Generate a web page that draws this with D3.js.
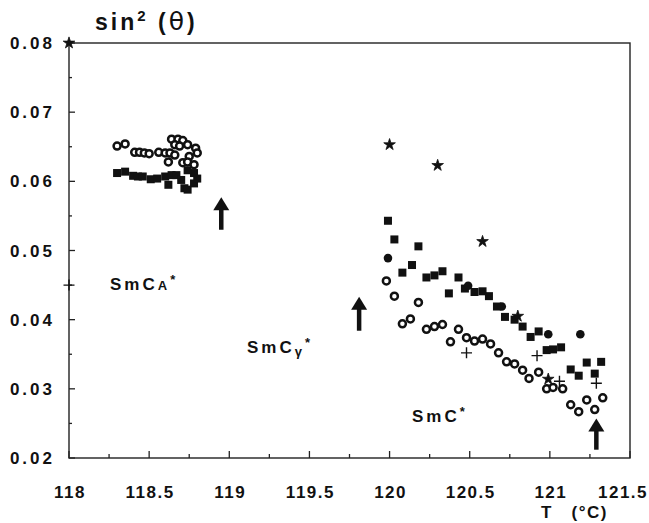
<!DOCTYPE html>
<html>
<head>
<meta charset="utf-8">
<script src="https://cdn.jsdelivr.net/npm/d3@7"></script>
<style>
  body { margin: 0; background: #fff; }
  svg { display: block; font-family: "Liberation Sans", Arial, sans-serif; }
  .x-label { font-weight: bold; font-size: 17px; letter-spacing: 1.5px; fill: #111; }
  .y-label { font-weight: bold; font-size: 17px; letter-spacing: 3px; fill: #111; }
  .phase { font-weight: bold; font-size: 17px; letter-spacing: 3px; fill: #111; }
</style>
</head>
<body>
<div id="chart"></div>
<script>
// sin^2(theta) vs T
var squaresT = [118.30,118.35,118.40,118.43,118.46,118.51,118.55,118.60,118.62,118.64,118.67,118.70,118.72,118.74,118.78,118.80,118.78,118.74,
  119.99,120.03,120.18,120.08,120.14,120.23,120.28,120.33,120.43,120.37,120.47,120.53,120.58,120.62,120.67,120.72,120.78,120.83,120.88,120.93,120.98,121.02,121.07,121.13,121.18,121.23,121.28,121.32];
var squaresV = [0.0612,0.0614,0.0608,0.0607,0.0607,0.0603,0.0604,0.0607,0.0595,0.0609,0.0609,0.0602,0.0590,0.0588,0.0597,0.0604,0.0612,0.0616,
  0.0543,0.0516,0.0506,0.0468,0.0479,0.0461,0.0464,0.0470,0.0461,0.0438,0.0445,0.0440,0.0441,0.0434,0.0419,0.0404,0.0400,0.0390,0.0375,0.0383,0.0356,0.0357,0.0360,0.0328,0.0319,0.0338,0.0322,0.0339];

var ringsT = [118.30,118.35,118.41,118.44,118.47,118.50,118.56,118.60,
  118.64,118.68,118.71,118.66,118.69,118.74,118.79,118.80,118.63,118.66,118.75,118.62,118.71,118.74,118.78,
  119.98,120.03,120.18,120.08,120.13,120.23,120.28,120.33,120.43,120.38,120.48,120.53,120.58,120.63,120.68,120.73,120.78,120.83,120.87,120.93,120.98,121.02,121.08,121.13,121.18,121.23,121.28,121.33];
var ringsV = [0.0651,0.0654,0.0642,0.0642,0.0641,0.0640,0.0642,0.0641,
  0.0661,0.0661,0.0659,0.0653,0.0651,0.0653,0.0648,0.0641,0.0641,0.0638,0.0636,0.0628,0.0627,0.0628,0.0624,
  0.0456,0.0434,0.0425,0.0394,0.0401,0.0386,0.0390,0.0393,0.0386,0.0368,0.0374,0.0369,0.0372,0.0365,0.0352,0.0339,0.0336,0.0327,0.0315,0.0324,0.0300,0.0302,0.0300,0.0277,0.0267,0.0284,0.0270,0.0287];

var dotsT = [119.99,120.49,120.70,120.99,121.19];
var dotsV = [0.0489,0.0449,0.0419,0.0379,0.0379];

var starsT = [118.00,120.00,120.30,120.58,120.80,120.99];
var starsV = [0.0800,0.0653,0.0623,0.0513,0.0405,0.0314];

var plusT = [118.00,120.48,120.92,121.06,121.29];
var plusV = [0.0450,0.0352,0.0348,0.0311,0.0308];

// transition arrows: T, tip value, tail value
var arrowT = [118.95,119.81,121.29];
var arrowTip = [0.0577,0.0433,0.0257];
var arrowTail = [0.0530,0.0384,0.0212];

var xTicks = [118,118.5,119,119.5,120,120.5,121,121.5];
var xTickLabels = ["118","118.5","119","119.5","120","120.5","121","121.5"];
var yTicks = [0.02,0.03,0.04,0.05,0.06,0.07,0.08];
var yTickLabels = ["0.02","0.03","0.04","0.05","0.06","0.07","0.08"];

var W = 649, H = 523;
var margin = {top: 43, right: 19, bottom: 65, left: 69};

var x = d3.scaleLinear().domain([118, 121.5]).range([margin.left, W - margin.right]);
var y = d3.scaleLinear().domain([0.02, 0.08]).range([H - margin.bottom, margin.top]);

var svg = d3.select("#chart").append("svg")
    .attr("width", W)
    .attr("height", H);

// frame
svg.append("rect")
    .attr("x", x(118)).attr("y", y(0.08))
    .attr("width", x(121.5) - x(118))
    .attr("height", y(0.02) - y(0.08))
    .attr("fill", "none")
    .attr("stroke", "#222")
    .attr("stroke-width", 1.4);

// x ticks (pointing in)
var xMinor = d3.range(118, 121.51, 0.25);
svg.append("g").selectAll("line").data(xMinor).enter().append("line")
    .attr("x1", function(d) { return x(d); })
    .attr("x2", function(d) { return x(d); })
    .attr("y1", y(0.02))
    .attr("y2", function(d, i) { return y(0.02) - (i % 2 === 0 ? 7 : 4); })
    .attr("stroke", "#222").attr("stroke-width", 1.3);

svg.append("g").selectAll("text").data(xTicks).enter().append("text")
    .attr("class", "x-label")
    .attr("x", function(d, i) { return x(d) + (i === xTicks.length - 1 ? -7 : 1); })
    .attr("y", y(0.02) + 40)
    .attr("text-anchor", "middle")
    .text(function(d, i) { return xTickLabels[i]; });

// y ticks (pointing in)
var yMinor = d3.range(0, 13).map(function(i) { return 0.02 + i * 0.005; });
svg.append("g").selectAll("line").data(yMinor).enter().append("line")
    .attr("x1", x(118))
    .attr("x2", function(d, i) { return x(118) + (i % 2 === 0 ? 6 : 3); })
    .attr("y1", function(d) { return y(d); })
    .attr("y2", function(d) { return y(d); })
    .attr("stroke", "#222").attr("stroke-width", 1.3);

svg.append("g").selectAll("text").data(yTicks).enter().append("text")
    .attr("class", "y-label")
    .attr("x", 55)
    .attr("y", function(d) { return y(d) + 6; })
    .attr("text-anchor", "end")
    .text(function(d, i) { return yTickLabels[i]; });

// axis titles
var title = svg.append("text")
    .attr("x", 95).attr("y", 30)
    .attr("font-size", 23).attr("font-weight", "bold").attr("letter-spacing", "3px")
    .attr("fill", "#111");
title.append("tspan").text("sin");
title.append("tspan").attr("font-size", 15).attr("dy", -9).text("2");
title.append("tspan").attr("dy", 9).text(" (");
title.append("tspan").attr("font-weight", "normal").attr("font-size", 25).attr("font-family", "DejaVu Sans").text("θ");
title.append("tspan").text(")");

svg.append("text")
    .attr("x", 541).attr("y", 518)
    .attr("font-size", 17).attr("font-weight", "bold").attr("fill", "#111")
    .attr("letter-spacing", "1.5px")
    .attr("xml:space", "preserve")
    .text("T   (°C)");

// phase labels
function phaseLabel(px, py, main, sub) {
  var t = svg.append("text").attr("class", "phase").attr("x", px).attr("y", py);
  t.append("tspan").text(main);
  if (sub) t.append("tspan").attr("font-size", 13).attr("dy", sub === "γ" ? 3 : 0).text(sub);
  t.append("tspan").attr("font-size", 13).attr("dy", sub === "γ" ? -9 : -6).text("*");
}
phaseLabel(110, 290, "SmC", "A");
phaseLabel(247, 353, "SmC", "γ");
phaseLabel(412, 422, "SmC", null);

// markers
var marks = svg.append("g");

marks.selectAll(".sq").data(squaresT).enter().append("rect")
    .attr("class", "sq")
    .attr("x", function(d) { return x(d) - 4; })
    .attr("y", function(d, i) { return y(squaresV[i]) - 4; })
    .attr("width", 8).attr("height", 8)
    .attr("fill", "#111");

marks.selectAll(".ring").data(ringsT).enter().append("circle")
    .attr("class", "ring")
    .attr("cx", function(d) { return x(d); })
    .attr("cy", function(d, i) { return y(ringsV[i]); })
    .attr("r", 3.5)
    .attr("fill", "#fff")
    .attr("stroke", "#111").attr("stroke-width", 2.5);

marks.selectAll(".dot").data(dotsT).enter().append("circle")
    .attr("class", "dot")
    .attr("cx", function(d) { return x(d); })
    .attr("cy", function(d, i) { return y(dotsV[i]); })
    .attr("r", 4.3)
    .attr("fill", "#111");

var star = d3.symbol().type(d3.symbolStar).size(42);
marks.selectAll(".star").data(starsT).enter().append("path")
    .attr("class", "star")
    .attr("d", star)
    .attr("transform", function(d, i) { return "translate(" + x(d) + "," + y(starsV[i]) + ")"; })
    .attr("fill", "#111").attr("stroke", "#111").attr("stroke-width", 0.8);

marks.selectAll(".plus").data(plusT).enter().append("path")
    .attr("class", "plus")
    .attr("d", "M-5.5,0H5.5M0,-5.5V5.5")
    .attr("transform", function(d, i) { return "translate(" + x(d) + "," + y(plusV[i]) + ")"; })
    .attr("stroke", "#111").attr("stroke-width", 1.4).attr("fill", "none");

// arrows
var arrows = svg.append("g");
arrowT.forEach(function(t, i) {
  var ax = x(t), tip = y(arrowTip[i]), tail = y(arrowTail[i]);
  arrows.append("line")
      .attr("x1", ax).attr("x2", ax)
      .attr("y1", tip + 10).attr("y2", tail)
      .attr("stroke", "#111").attr("stroke-width", 4.5);
  arrows.append("path")
      .attr("d", "M" + ax + "," + tip + "L" + (ax + 8) + "," + (tip + 13) + "L" + (ax - 8) + "," + (tip + 13) + "Z")
      .attr("fill", "#111");
});
</script>
</body>
</html>
